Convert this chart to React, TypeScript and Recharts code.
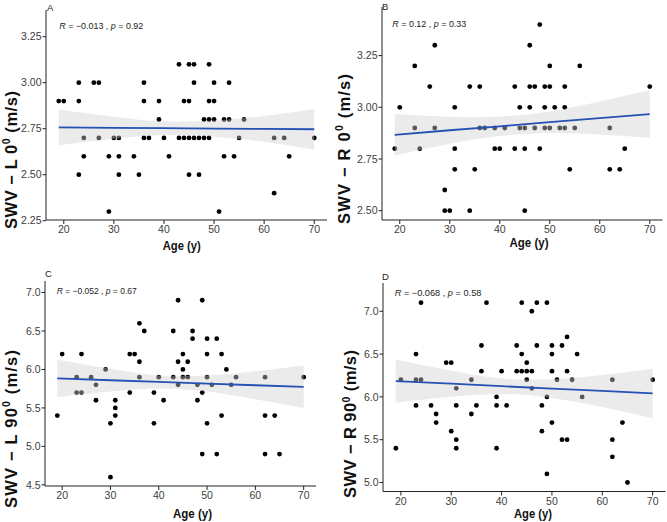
import React from "react";
import { ComposedChart, Scatter, Line, Area, XAxis, YAxis } from "recharts";

// ages on the x axis, shared by all four panels
const ageTicks = [20, 30, 40, 50, 60, 70];
const fitAges = [19, 30, 40, 50, 60, 70];

// panel A: SWV - L 0
const pointsA: [number, number][] = [
  [19, 2.9], [20, 2.9], [23, 3.0], [23, 2.9], [23, 2.5], [24, 2.7], [24, 2.6], [26, 3.0], [27, 3.0], [27, 2.7],
  [29, 2.6], [29, 2.3], [30, 2.7], [31, 2.7], [31, 2.6], [31, 2.5], [34, 2.6], [35, 2.5], [36, 3.0], [36, 2.9],
  [36, 2.7], [37, 2.7], [39, 2.9], [39, 2.8], [40, 2.7], [41, 2.6], [43, 3.1], [43, 2.7], [44, 2.9], [44, 2.7],
  [45, 3.1], [45, 2.9], [45, 2.7], [45, 2.5], [46, 3.1], [46, 3.0], [46, 2.7], [47, 2.7], [47, 2.5], [48, 2.8],
  [48, 2.7], [49, 3.1], [49, 2.9], [49, 2.8], [49, 2.7], [50, 3.0], [50, 2.9], [50, 2.8], [51, 2.3], [52, 2.8],
  [52, 2.6], [53, 3.0], [53, 2.8], [54, 2.6], [55, 2.7], [56, 2.8], [62, 2.7], [62, 2.4], [64, 2.7], [65, 2.6],
  [70, 2.7],
];
const fitA = [2.757, 2.755, 2.753, 2.751, 2.749, 2.747];
const loA = [2.66, 2.695, 2.716, 2.707, 2.679, 2.637];
const hiA = [2.854, 2.815, 2.79, 2.795, 2.819, 2.857];

// panel B: SWV - R 0
const pointsB: [number, number][] = [
  [19, 2.8], [20, 3.0], [23, 3.2], [23, 2.9], [24, 2.8], [26, 3.1], [27, 3.3], [27, 2.9], [29, 2.6], [29, 2.5],
  [30, 2.5], [31, 3.0], [31, 2.8], [31, 2.7], [34, 3.1], [34, 2.5], [35, 2.7], [36, 3.1], [36, 2.9], [37, 2.9],
  [39, 2.9], [39, 2.8], [40, 2.8], [41, 2.9], [43, 3.1], [43, 2.8], [44, 3.0], [44, 2.9], [45, 2.9], [45, 2.8],
  [45, 2.5], [46, 3.3], [46, 3.1], [46, 3.0], [47, 3.1], [47, 2.9], [48, 3.4], [48, 2.8], [49, 3.1], [49, 3.0],
  [49, 2.9], [50, 3.2], [50, 3.1], [50, 2.9], [51, 3.0], [52, 2.9], [53, 3.1], [53, 3.0], [53, 2.9], [54, 2.7],
  [55, 2.9], [56, 3.2], [62, 2.9], [62, 2.7], [64, 2.7], [65, 2.8], [70, 3.1],
];
const fitB = [2.867, 2.889, 2.908, 2.928, 2.948, 2.967];
const loB = [2.767, 2.824, 2.861, 2.876, 2.868, 2.852];
const hiB = [2.967, 2.954, 2.955, 2.98, 3.028, 3.082];

// panel C: SWV - L 90
const pointsC: [number, number][] = [
  [19, 5.4], [20, 6.2], [23, 5.9], [23, 5.7], [24, 6.2], [24, 5.7], [26, 5.9], [27, 5.8], [27, 5.6], [29, 6.0],
  [30, 5.3], [30, 4.6], [31, 5.6], [31, 5.5], [31, 5.4], [34, 6.2], [34, 5.7], [35, 6.2], [36, 6.6], [36, 6.1],
  [36, 5.9], [37, 6.5], [39, 5.7], [39, 5.3], [40, 5.9], [41, 5.6], [43, 6.5], [43, 5.9], [44, 6.9], [44, 6.1],
  [44, 5.8], [45, 6.2], [45, 6.0], [45, 5.9], [46, 6.1], [46, 5.9], [47, 6.5], [47, 6.4], [48, 5.8], [48, 5.6],
  [49, 6.9], [49, 5.7], [49, 4.9], [50, 6.4], [50, 6.2], [50, 5.9], [50, 5.3], [51, 5.8], [52, 6.4], [52, 4.9],
  [53, 6.2], [53, 5.4], [54, 6.0], [55, 5.8], [56, 5.9], [62, 5.9], [62, 5.4], [62, 4.9], [64, 5.4], [65, 4.9],
  [70, 5.9],
];
const fitC = [5.883, 5.86, 5.838, 5.817, 5.795, 5.774];
const loC = [5.64, 5.712, 5.753, 5.713, 5.614, 5.5];
const hiC = [6.126, 6.008, 5.923, 5.921, 5.976, 6.05];

// panel D: SWV - R 90
const pointsD: [number, number][] = [
  [19, 5.4], [20, 6.2], [23, 6.5], [23, 6.2], [23, 5.9], [24, 7.1], [24, 6.2], [26, 5.9], [27, 5.8], [27, 5.7],
  [29, 6.4], [30, 6.4], [30, 5.6], [31, 6.1], [31, 5.9], [31, 5.5], [31, 5.4], [34, 6.2], [34, 5.8], [35, 5.9],
  [36, 6.6], [36, 6.3], [37, 7.1], [39, 6.0], [39, 5.9], [39, 5.4], [40, 6.3], [41, 5.9], [43, 6.6], [43, 6.3],
  [44, 7.1], [44, 6.5], [44, 6.3], [45, 6.4], [45, 6.3], [45, 6.2], [46, 7.0], [46, 6.3], [46, 6.1], [47, 7.1],
  [47, 6.6], [48, 5.9], [48, 5.6], [49, 7.1], [49, 6.0], [49, 5.1], [50, 6.6], [50, 6.5], [50, 6.3], [50, 5.7],
  [51, 6.2], [52, 6.6], [52, 5.5], [53, 6.7], [53, 6.3], [53, 5.5], [54, 6.2], [55, 6.5], [56, 6.0], [62, 6.2],
  [62, 5.5], [62, 5.3], [64, 5.7], [65, 5.0], [70, 6.2],
];
const fitD = [6.185, 6.154, 6.125, 6.097, 6.069, 6.04];
const loD = [5.935, 6.001, 6.035, 5.988, 5.882, 5.75];
const hiD = [6.435, 6.307, 6.215, 6.206, 6.256, 6.33];

const ticksA = [2.25, 2.5, 2.75, 3.0, 3.25];
const ticksB = [2.5, 2.75, 3.0, 3.25];
const ticksC = [4.5, 5.0, 5.5, 6.0, 6.5, 7.0];
const ticksD = [5.0, 5.5, 6.0, 6.5, 7.0];

const FONT = '"Liberation Sans", Arial, Helvetica, sans-serif';

const panels = [
  { key: "A", points: pointsA, fit: fitA, lo: loA, hi: hiA, ticks: ticksA, dec: 2, domain: [2.254, 3.395], x0: 46, x1: 327, y0: 10, y1: 220 },
  { key: "B", points: pointsB, fit: fitB, lo: loB, hi: hiB, ticks: ticksB, dec: 2, domain: [2.455, 3.485], x0: 381.5, x1: 662, y0: 7, y1: 220 },
  { key: "C", points: pointsC, fit: fitC, lo: loC, hi: hiC, ticks: ticksC, dec: 1, domain: [4.485, 7.15], x0: 44.5, x1: 315.5, y0: 281, y1: 486 },
  { key: "D", points: pointsD, fit: fitD, lo: loD, hi: hiD, ticks: ticksD, dec: 1, domain: [4.895, 7.33], x0: 382.5, x1: 665, y0: 283, y1: 491.5 },
];

// texts laid over the panels
const panelLabels = [
  { t: "A", x: 47, y: 11 },
  { t: "B", x: 382, y: 9.5 },
  { t: "C", x: 45, y: 277 },
  { t: "D", x: 382, y: 280 },
];
const statLabels = [
  { r: "−0.013", p: "0.92", x: 59.3, y: 28.7, len: 84 },
  { r: "0.12", p: "0.33", x: 392.3, y: 27.3, len: 74 },
  { r: "−0.052", p: "0.67", x: 56.7, y: 294.3, len: 80 },
  { r: "−0.068", p: "0.58", x: 394.7, y: 296, len: 86.7 },
];
const xTitles = [
  { x: 181.7, y: 250, len: 38 },
  { x: 529, y: 247, len: 39 },
  { x: 192.5, y: 518, len: 39 },
  { x: 533, y: 518, len: 38 },
];
const yTitles = [
  { side: "L", deg: "0", x: 16.5, y: 160, len: 138 },
  { side: "R", deg: "0", x: 349.5, y: 149, len: 150 },
  { side: "L", deg: "90", x: 16.5, y: 429, len: 158 },
  { side: "R", deg: "90", x: 356, y: 424, len: 148 },
];

const Dot = (props: any) => <circle cx={props.cx} cy={props.cy} r={2.4} fill="#000" />;

function Panel({ p }: { p: any }) {
  const w = p.x1 - p.x0 + 45;
  const h = p.y1 - p.y0 + 35;
  const fitData = fitAges.map((age, i) => ({ age, fit: p.fit[i], band: [p.lo[i], p.hi[i]] }));
  const pts = p.points.map(([age, v]: [number, number]) => ({ age, v }));
  return (
    <div style={{ position: "absolute", left: p.x0 - 40, top: p.y0 - 5 }}>
      <ComposedChart width={w} height={h} data={fitData} margin={{ top: 5, right: 5, bottom: 0, left: 0 }}>
        <XAxis
          type="number"
          dataKey="age"
          domain={[16.45, 72.55]}
          ticks={ageTicks}
          interval={0}
          allowDataOverflow
          height={30}
          tickSize={4}
          tickMargin={2}
          stroke="#222"
          tick={{ fill: "#3d3d3d", fontSize: 10.5, fontFamily: FONT }}
        />
        <YAxis
          type="number"
          domain={p.domain}
          ticks={p.ticks}
          interval={0}
          allowDataOverflow
          width={40}
          tickSize={3.5}
          tickMargin={1}
          stroke="#222"
          tickFormatter={(v: number) => v.toFixed(p.dec)}
          tick={{ fill: "#3d3d3d", fontSize: 10.5, fontFamily: FONT }}
        />
        <Scatter data={pts} dataKey="v" shape={Dot} isAnimationActive={false} />
        <Area
          dataKey="band"
          type="natural"
          stroke="none"
          fill="#cfcfcf"
          fillOpacity={0.42}
          isAnimationActive={false}
          zIndex={650}
        />
        <Line
          dataKey="fit"
          type="linear"
          stroke="#2451b3"
          strokeWidth={1.8}
          dot={false}
          activeDot={false}
          isAnimationActive={false}
          zIndex={700}
        />
      </ComposedChart>
    </div>
  );
}

export default function App() {
  return (
    <div style={{ position: "absolute", left: 0, top: 0, width: 667, height: 522, overflow: "hidden", background: "#fff" }}>
      {panels.map((p) => (
        <Panel key={p.key} p={p} />
      ))}
      <svg width={667} height={522} style={{ position: "absolute", left: 0, top: 0, pointerEvents: "none" }} fontFamily={FONT}>
        {panelLabels.map((l) => (
          <text key={l.t} x={l.x} y={l.y} fontSize={9.5} fill="#222">
            {l.t}
          </text>
        ))}
        {statLabels.map((s, i) => (
          <text key={i} x={s.x} y={s.y} fontSize={9} fill="#222" textLength={s.len} lengthAdjust="spacingAndGlyphs">
            <tspan fontStyle="italic">R</tspan>
            {` = ${s.r} , `}
            <tspan fontStyle="italic">p</tspan>
            {` = ${s.p}`}
          </text>
        ))}
        {xTitles.map((t, i) => (
          <text key={i} x={t.x} y={t.y} fontSize={12} fontWeight="bold" fill="#111" textAnchor="middle" textLength={t.len} lengthAdjust="spacingAndGlyphs">
            Age (y)
          </text>
        ))}
        {yTitles.map((t, i) => (
          <text
            key={i}
            transform={`translate(${t.x},${t.y}) rotate(-90)`}
            fontSize={16.5}
            fontWeight="bold"
            fill="#111"
            textAnchor="middle"
            textLength={t.len}
            lengthAdjust="spacing"
          >
            {`SWV − ${t.side} ${t.deg}`}
            <tspan dy={-6.5} fontSize={10.5}>0</tspan>
            <tspan dy={6.5}>{" (m/s)"}</tspan>
          </text>
        ))}
      </svg>
    </div>
  );
}
